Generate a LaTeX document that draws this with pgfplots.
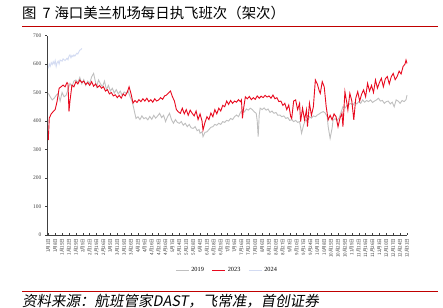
\documentclass[border=0pt]{standalone}
\usepackage{fontspec}
\usepackage{pgfplots}
\pgfplotsset{compat=1.18}
\setmainfont{Liberation Serif}
\newfontfamily\cjk{Noto Sans CJK SC}
\newfontfamily\cjksl[FakeSlant=0.18]{Noto Sans CJK SC}
\definecolor{c2019}{HTML}{BFBFBF}
\definecolor{c2023}{HTML}{E8091E}
\definecolor{c2024}{HTML}{D3DBF2}
\definecolor{hdr}{HTML}{C00000}
\definecolor{axc}{HTML}{404040}
\begin{document}
\begin{tikzpicture}[x=1pt,y=1pt]
\useasboundingbox (0,0) rectangle (443,307);
\node[anchor=base west, inner sep=0, font=\cjk\fontsize{14.4}{14.4}\selectfont] at (22,288.5) {图\hspace{6pt}7\hspace{4pt}海口美兰机场每日执飞班次（架次）};
\draw[hdr, line width=0.9pt] (22,280.5) -- (438,280.5);
\draw[hdr, line width=0.9pt] (22,15.3) -- (438,15.3);
\node[anchor=base west, inner sep=0, font=\cjksl\fontsize{14.5}{14.5}\selectfont] at (22,1) {资料来源：航班管家\textit{DAST}，飞常准，首创证券};
\begin{axis}[
  at={(47.3pt,72pt)}, anchor=origin, scale only axis,
  width=359.7pt, height=199.5pt,
  xmin=0, xmax=365, ymin=0, ymax=700,
  axis lines*=left,
  axis line style={axc, line width=0.6pt},
  tick align=outside,
  major tick length=2.3pt,
  tick style={axc, line width=0.4pt},
  xtick style={yshift=2.3pt},
  ytick={0,100,...,700},
  /pgf/number format/assume math mode=true,
  yticklabel style={font=\fontsize{5.5}{5.5}\selectfont, color=black!75},
  xtick={1,8,...,365},
  xticklabels={1月1日,1月8日,1月15日,1月22日,1月29日,2月5日,2月12日,2月19日,2月26日,3月5日,3月12日,3月19日,3月26日,4月2日,4月9日,4月16日,4月23日,4月30日,5月7日,5月14日,5月21日,5月28日,6月4日,6月11日,6月18日,6月25日,7月2日,7月9日,7月16日,7月23日,7月30日,8月6日,8月13日,8月20日,8月27日,9月3日,9月10日,9月17日,9月24日,10月1日,10月8日,10月15日,10月22日,10月29日,11月5日,11月12日,11月19日,11月26日,12月3日,12月10日,12月17日,12月24日,12月31日},
  xticklabel style={font=\cjk\fontsize{4.6}{4.6}\selectfont, color=black!75, rotate=90, anchor=east, inner sep=1pt},
  legend style={at={(0.5,-0.177)}, anchor=center, draw=none, fill=none, legend columns=3,
    font=\fontsize{6.3}{6.3}\selectfont, inner sep=0pt,
    /tikz/every even column/.append style={column sep=6pt}},
  legend image code/.code={\draw[#1] (0pt,0pt) -- (13pt,0pt);},
  clip=false,
]
\addplot[c2019, line width=0.9pt, mark=none] coordinates {
(1,497)(3,485)(5,474)(7,480)(9,490)(11,497)(13,470)(15,500)(17,485)(19,490)(21,510)(23,532)(25,520)(27,540)(29,544)(31,535)(33,553)(35,530)(37,545)(39,525)(41,540)(43,532)(45,555)(47,567)(49,535)(50,520)(52,544)(54,530)(56,520)(58,540)(60,510)(62,525)(64,505)(66,515)(68,498)(70,510)(72,495)(74,505)(76,490)(78,502)(80,497)(82,505)(84,485)(86,470)(88,440)(90,409)(92,415)(94,405)(96,418)(98,408)(100,412)(102,404)(104,416)(106,406)(108,420)(110,410)(112,418)(114,427)(116,412)(118,420)(120,398)(122,415)(124,427)(126,405)(128,392)(130,405)(132,395)(134,392)(136,398)(138,385)(140,392)(142,380)(144,388)(146,376)(148,374)(150,380)(152,366)(154,370)(155,357)(157,362)(158,345)(160,360)(162,362)(164,370)(166,378)(168,380)(170,388)(172,385)(174,392)(176,388)(178,398)(180,395)(182,402)(184,400)(186,409)(188,405)(190,415)(192,421)(194,415)(196,430)(198,439)(200,432)(202,442)(204,438)(206,445)(208,440)(210,432)(212,427)(213,400)(214,345)(215,420)(216,445)(218,440)(220,446)(222,438)(224,442)(226,430)(228,435)(230,427)(232,430)(234,420)(236,421)(238,415)(240,418)(242,409)(244,412)(246,402)(248,405)(250,398)(252,402)(254,395)(256,398)(258,357)(260,385)(262,404)(264,400)(266,415)(268,410)(270,418)(272,415)(274,421)(276,425)(278,430)(280,433)(282,428)(284,415)(285,380)(287,339)(289,375)(290,404)(292,408)(294,402)(296,410)(298,430)(300,450)(302,445)(304,455)(306,458)(308,462)(310,455)(312,465)(314,460)(316,468)(318,462)(320,474)(322,466)(324,472)(326,468)(328,474)(330,465)(332,470)(334,474)(336,480)(338,470)(340,472)(342,462)(344,468)(346,470)(348,460)(350,466)(352,450)(354,474)(356,470)(358,462)(360,472)(362,468)(364,475)(365,491)
};
\addlegendentry{2019}
\addplot[c2023, line width=0.9pt, mark=none] coordinates {
(1,333)(2,410)(4,425)(6,433)(8,440)(10,470)(12,515)(14,520)(16,526)(18,520)(20,535)(21,530)(22,433)(23,470)(25,526)(27,520)(29,538)(31,530)(33,544)(35,535)(37,540)(39,528)(41,535)(43,525)(45,538)(47,522)(49,530)(51,518)(53,525)(55,515)(57,520)(59,505)(61,510)(63,495)(65,500)(67,488)(69,492)(71,482)(73,490)(75,480)(77,495)(79,488)(81,500)(83,520)(85,495)(87,463)(89,472)(91,465)(93,475)(95,468)(97,478)(99,470)(101,480)(103,468)(105,475)(107,466)(109,478)(111,470)(113,474)(115,482)(117,476)(119,488)(121,491)(123,498)(125,505)(127,485)(129,470)(131,440)(133,432)(135,427)(137,445)(139,425)(141,440)(143,420)(145,438)(147,427)(149,418)(151,435)(153,405)(155,425)(157,400)(158,368)(160,395)(162,415)(164,405)(166,428)(168,415)(170,440)(172,425)(174,445)(176,435)(178,455)(180,450)(182,470)(184,458)(186,472)(188,462)(190,470)(192,466)(194,475)(196,468)(197,474)(198,409)(199,440)(201,485)(203,478)(205,486)(207,475)(209,482)(211,476)(213,488)(215,480)(217,487)(219,482)(221,490)(223,484)(225,488)(227,480)(229,491)(231,478)(233,482)(235,468)(237,470)(239,455)(241,462)(243,440)(245,456)(247,415)(248,409)(250,470)(252,474)(254,440)(256,462)(257,398)(259,445)(261,404)(263,439)(264,380)(266,462)(268,420)(270,450)(272,544)(274,530)(276,505)(277,497)(279,538)(281,520)(283,450)(285,404)(287,420)(289,404)(291,425)(293,415)(295,380)(297,410)(299,427)(300,380)(302,503)(304,462)(305,439)(307,497)(309,470)(311,404)(313,480)(315,503)(317,470)(319,495)(321,509)(323,485)(325,532)(327,505)(329,525)(331,500)(333,544)(335,515)(337,535)(339,550)(341,520)(343,548)(345,556)(347,530)(349,555)(351,567)(353,545)(355,556)(357,575)(359,565)(361,591)(363,600)(364,614)(365,602)
};
\addlegendentry{2023}
\addplot[c2024, line width=0.9pt, mark=none] coordinates {
(1,585)(2,600)(3,592)(4,605)(5,598)(6,608)(7,600)(8,612)(9,591)(10,605)(11,610)(12,600)(13,614)(15,610)(16,618)(18,612)(20,620)(21,615)(22,628)(23,632)(24,622)(25,630)(26,626)(27,632)(28,628)(30,638)(31,635)(32,642)(33,649)(34,650)(35,655)
};
\addlegendentry{2024}
\end{axis}
\end{tikzpicture}
\end{document}
